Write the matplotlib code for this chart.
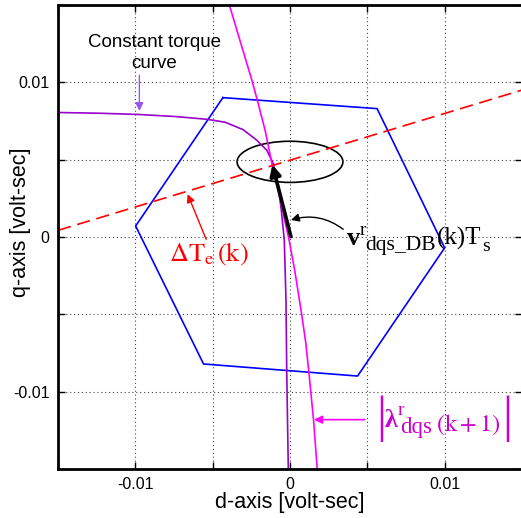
import numpy as np
import matplotlib
matplotlib.use('Agg')
from matplotlib import pyplot as plt
from matplotlib.patches import Ellipse

plt.rcParams['font.family'] = ['Liberation Sans', 'DejaVu Sans']
plt.rcParams['mathtext.fontset'] = 'stix'

# Voltage hexagon vertices (d, q) [volt-sec]
hex_d = [-0.00434, 0.00563, 0.01000, 0.00437, -0.00559, -0.00998, -0.00434]
hex_q = [0.00901, 0.00830, -0.00070, -0.00899, -0.00821, 0.00071, 0.00901]

# Constant torque curve
torque_d = [-0.0150, -0.01226, -0.00974, -0.00742, -0.00537, -0.00419, -0.00303,
            -0.00215, -0.00150, -0.00108, -0.00075, -0.00054, -0.00037, -0.00026,
            -0.00021, -0.00011]
torque_q = [0.00805, 0.00800, 0.00792, 0.00779, 0.00761, 0.00742, 0.00694,
            0.00626, 0.00561, 0.00475, 0.00325, 0.00153, -0.00019, -0.00406,
            -0.00877, -0.0150]

# Flux magnitude |lambda(k+1)| curve
flux_d = [-0.00392, -0.00316, -0.00243, -0.00203, -0.00161, -0.00116, -0.00063,
          -0.00006, 0.00030, 0.00075, 0.00102, 0.00123, 0.00152, 0.00176]
flux_q = [0.0150, 0.01245, 0.01002, 0.00852, 0.00690, 0.00471, 0.00239,
          -0.00019, -0.00213, -0.00497, -0.00684, -0.00884, -0.01181, -0.0150]

# Torque error line (dashed)
dT_d = [-0.015, 0.015]
dT_q = [0.00043, 0.00950]

# Ellipse (center, width, height)
ell_center = (0.0, 0.00486)
ell_w, ell_h = 0.00684, 0.00266

# Deadbeat voltage vector (tail -> tip)
vdb_tail = (0.00006, 0.00002)
vdb_tip = (-0.00114, 0.00468)

ticks = [-0.015, -0.01, -0.005, 0, 0.005, 0.01, 0.015]
tick_labels = ['', '-0.01', '', '0', '', '0.01', '']

fig = plt.figure(figsize=(5.21, 5.18), dpi=100)
ax = fig.add_axes([58 / 521, 49 / 518, 464 / 521, 464 / 518])

ax.plot(hex_d, hex_q, color='#0000FF', lw=1.2)
ax.plot(torque_d, torque_q, color='#9900CC', lw=1.2)
ax.plot(flux_d, flux_q, color='#FF00FF', lw=1.2)
ax.plot(dT_d, dT_q, color='#FF0000', lw=1.2, dashes=(8, 4))
ax.add_patch(Ellipse(ell_center, ell_w, ell_h, fill=False, color='k', lw=1.2))

ax.annotate('', xy=vdb_tip, xytext=vdb_tail,
            arrowprops=dict(arrowstyle='-|>', color='k', lw=2.6, mutation_scale=16,
                            shrinkA=0, shrinkB=0))

serif = ['Liberation Serif', 'DejaVu Serif']

# v^r_dqs_DB(k)Ts label
ax.annotate('', xy=(0.00006, 0.0011), xytext=(0.00344, 0.0005),
            arrowprops=dict(arrowstyle='-|>', color='k', lw=1.0, mutation_scale=12,
                            shrinkA=0, shrinkB=0, connectionstyle='arc3,rad=0.25'))
ax.text(0.00366, -0.00052, 'v', family=serif, weight='bold', fontsize=19, va='baseline')
ax.text(0.00452, 0.00013, 'r', family=serif, fontsize=14, va='baseline')
ax.text(0.00484, -0.00084, 'dqs_DB', family=serif, fontsize=15.5, va='baseline')
ax.text(0.00948, -0.00052, '(k)T', family=serif, fontsize=18, va='baseline')
ax.text(0.01239, -0.00090, 's', family=serif, fontsize=14, va='baseline')

# torque error label
ax.annotate('', xy=(-0.00662, 0.00277), xytext=(-0.00542, -0.00015),
            arrowprops=dict(arrowstyle='-|>', color='#FF0000', lw=1.0, mutation_scale=12,
                            shrinkA=0, shrinkB=0))
ax.text(-0.00785, -0.00159, r'$\Delta\mathrm{T}_{\mathrm{e}}\,(\mathrm{k})$',
        fontsize=19, ha='left', va='baseline', color='#FF0000')

# flux magnitude label
mag = '#CC00CC'
ax.annotate('', xy=(0.00155, -0.01181), xytext=(0.00484, -0.01181),
            arrowprops=dict(arrowstyle='-|>', color='#FF00FF', lw=1.2, mutation_scale=12,
                            shrinkA=0, shrinkB=0))
ax.text(0.0059, -0.01175, '|', family=serif, fontsize=36, ha='center', va='center', color=mag)
ax.text(0.00613, -0.01226, 'λ', family=serif, weight='bold', fontsize=19,
        va='baseline', color=mag)
ax.text(0.00695, -0.01149, 'r', family=serif, fontsize=14, va='baseline', color=mag)
ax.text(0.00710, -0.01265, 'dqs', family=serif, fontsize=16.5, va='baseline', color=mag)
ax.text(0.00947, -0.01252, r'$(\mathrm{k}+1)$', fontsize=17.5, va='baseline', color=mag)
ax.text(0.01405, -0.01175, '|', family=serif, fontsize=36, ha='center', va='center', color=mag)

# constant torque label
ax.annotate('', xy=(-0.00974, 0.00815), xytext=(-0.00974, 0.01045),
            arrowprops=dict(arrowstyle='-|>', color='#9955EE', lw=1.0, mutation_scale=12,
                            shrinkA=0, shrinkB=0))
ax.text(-0.00877, 0.01228, 'Constant torque', fontsize=13.5, ha='center', va='baseline')
ax.text(-0.00877, 0.01090, 'curve', fontsize=13.5, ha='center', va='baseline')

ax.set_xlim(-0.015, 0.015)
ax.set_ylim(-0.015, 0.015)
ax.set_xticks(ticks)
ax.set_xticklabels(tick_labels)
ax.set_yticks(ticks)
ax.set_yticklabels(tick_labels)
ax.tick_params(direction='in', top=True, right=True, length=5, width=1,
               labelsize=11.5, pad=6)
ax.grid(True, color='#444444', lw=0.8, linestyle=(0, (1, 2.5)))
for s in ax.spines.values():
    s.set_linewidth(2)

ax.set_xlabel('d-axis [volt-sec]', fontsize=15.5, labelpad=0)
ax.set_ylabel('q-axis [volt-sec]', fontsize=15.5)
ax.yaxis.set_label_coords(-0.059, 0.532)

fig.savefig('out.png', dpi=100)
